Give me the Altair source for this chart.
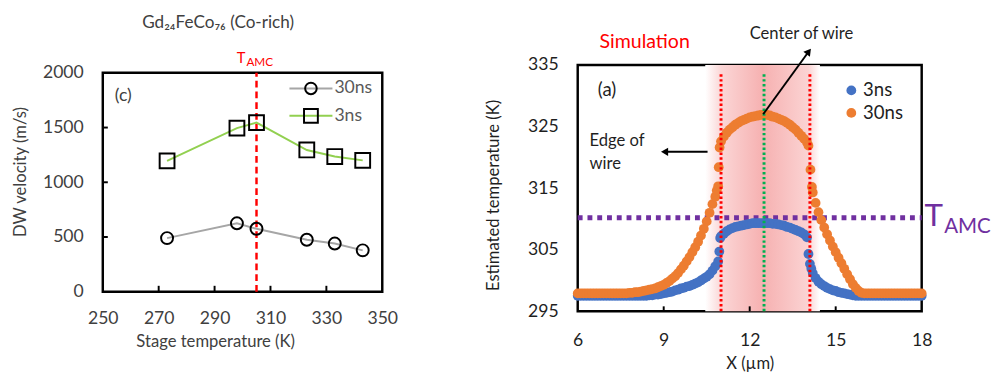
import altair as alt
import pandas as pd

# ---------------- Left panel data (measured DW velocity) ----------------
STAGE_T = [273, 298, 305, 323, 333, 343]
V_30NS = [490, 625, 575, 475, 440, 378]
V_3NS = [1195, 1495, 1545, 1295, 1235, 1200]
T_AMC_LEFT = [305.0]
LEFT_XTICKS = [250, 270, 290, 310, 330, 350]
LEFT_YTICKS = [0, 500, 1000, 1500, 2000]
LEFT_INNER_XTICKS = [270.0, 290.0, 310.0, 330.0]
LEFT_INNER_YTICKS = [500.0, 1000.0, 1500.0]

# ---------------- Right panel data (simulated temperature) ----------------
X_3NS = [6.0, 6.1, 6.2, 6.3, 6.4, 6.5, 6.6, 6.7, 6.8, 6.9,
         7.0, 7.1, 7.2, 7.3, 7.4, 7.5, 7.6, 7.7, 7.8, 7.9,
         8.0, 8.1, 8.2, 8.3, 8.4, 8.5, 8.6, 8.7, 8.8, 8.9,
         9.0, 9.1, 9.2, 9.3, 9.4, 9.5, 9.6, 9.7, 9.8, 9.9,
         10.0, 10.1, 10.2, 10.3, 10.4, 10.5, 10.6, 10.7, 10.8, 10.9,
         10.94, 10.97,
         11.0, 11.1, 11.2, 11.3, 11.4, 11.5, 11.6, 11.7, 11.8, 11.9,
         12.0, 12.1, 12.2, 12.3, 12.4, 12.5, 12.6, 12.7, 12.8, 12.9,
         13.0, 13.1, 13.2, 13.3, 13.4, 13.5, 13.6, 13.7, 13.8, 13.9,
         14.0, 14.05, 14.1, 14.15,
         14.2, 14.3, 14.4, 14.5, 14.6, 14.7, 14.8, 14.9,
         15.0, 15.1, 15.2, 15.3, 15.4, 15.5, 15.6, 15.7, 15.8, 15.9,
         16.0, 16.1, 16.2, 16.3, 16.4, 16.5, 16.6, 16.7, 16.8, 16.9,
         17.0, 17.1, 17.2, 17.3, 17.4, 17.5, 17.6, 17.7, 17.8, 17.9,
         18.0]
T_3NS = [297.5, 297.5, 297.5, 297.5, 297.5, 297.5, 297.5, 297.5, 297.5, 297.5,
         297.5, 297.5, 297.5, 297.5, 297.5, 297.5, 297.5, 297.5, 297.5, 297.5,
         297.5, 297.5, 297.5, 297.5, 297.5, 297.6, 297.6, 297.7, 297.7, 297.8,
         297.9, 298.0, 298.1, 298.2, 298.4, 298.5, 298.7, 298.8, 299.0, 299.1,
         299.3, 299.5, 299.7, 300.0, 300.3, 300.6, 301.0, 301.6, 302.3, 303.1,
         304.7, 306.9,
         307.2, 307.6, 308.0, 308.3, 308.5, 308.7, 308.8, 308.9, 309.0, 309.1,
         309.2, 309.3, 309.3, 309.3, 309.3, 309.3, 309.3, 309.3, 309.2, 309.2,
         309.1, 309.0, 308.9, 308.7, 308.6, 308.4, 308.2, 308.0, 307.8, 307.5,
         307.0, 304.3, 302.7, 301.9,
         301.2, 300.4, 299.8, 299.4, 299.1, 298.8, 298.6, 298.4,
         298.3, 298.1, 298.0, 297.9, 297.8, 297.7, 297.6, 297.5, 297.5, 297.5,
         297.5, 297.5, 297.5, 297.5, 297.5, 297.5, 297.5, 297.5, 297.5, 297.5,
         297.5, 297.5, 297.5, 297.5, 297.5, 297.5, 297.5, 297.5, 297.5, 297.5,
         297.5]

X_30NS = [6.0, 6.1, 6.2, 6.3, 6.4, 6.5, 6.6, 6.7, 6.8, 6.9,
          7.0, 7.1, 7.2, 7.3, 7.4, 7.5, 7.6, 7.7, 7.8, 7.9,
          8.0, 8.1, 8.2, 8.3, 8.4, 8.5, 8.6, 8.7, 8.8, 8.9,
          9.0, 9.1, 9.2, 9.3, 9.4, 9.5, 9.6, 9.7, 9.8, 9.9,
          10.0, 10.1, 10.2, 10.3, 10.4, 10.5, 10.6, 10.7, 10.8,
          10.85, 10.9, 10.92, 10.95,
          11.0, 11.1, 11.2, 11.3, 11.4, 11.5, 11.6, 11.7, 11.8, 11.9,
          12.0, 12.1, 12.2, 12.3, 12.4, 12.5, 12.6, 12.7, 12.8, 12.9,
          13.0, 13.1, 13.2, 13.3, 13.4, 13.5, 13.6, 13.7, 13.8, 13.9,
          14.0, 14.05, 14.12, 14.17,
          14.2, 14.3, 14.4, 14.5, 14.6, 14.7, 14.8, 14.9,
          15.0, 15.1, 15.2, 15.3, 15.4, 15.5, 15.6, 15.7, 15.8, 15.9,
          16.0, 16.1, 16.2, 16.3, 16.4, 16.5, 16.6, 16.7, 16.8, 16.9,
          17.0, 17.1, 17.2, 17.3, 17.4, 17.5, 17.6, 17.7, 17.8, 17.9,
          18.0]
T_30NS = [297.9, 297.9, 297.9, 297.9, 297.9, 297.9, 297.9, 297.9, 297.9, 297.9,
          297.9, 297.9, 297.9, 297.9, 297.9, 297.9, 297.9, 297.9, 298.0, 298.0,
          298.1, 298.1, 298.2, 298.3, 298.4, 298.5, 298.6, 298.7, 298.9, 299.1,
          299.3, 299.6, 299.9, 300.3, 300.7, 301.2, 301.8, 302.4, 303.1, 303.8,
          304.6, 305.4, 306.3, 307.3, 308.4, 309.6, 311.0, 312.4, 313.6,
          314.6, 315.3, 318.4, 321.6,
          322.6, 323.4, 324.0, 324.5, 324.9, 325.3, 325.6, 325.9, 326.1, 326.3,
          326.5, 326.6, 326.7, 326.8, 326.9, 326.9, 326.9, 326.8, 326.6, 326.5,
          326.3, 326.1, 325.9, 325.6, 325.3, 324.9, 324.5, 324.0, 323.5, 323.0,
          322.4, 321.9, 318.0, 315.2,
          314.3, 312.6, 311.1, 309.8, 308.6, 307.5, 306.5, 305.5,
          304.6, 303.7, 302.8, 301.9, 301.0, 300.2, 299.4, 298.8, 298.3, 298.0,
          297.9, 297.9, 297.9, 297.9, 297.9, 297.9, 297.9, 297.9, 297.9, 297.9,
          297.9, 297.9, 297.9, 297.9, 297.9, 297.9, 297.9, 297.9, 297.9, 297.9,
          297.9]

EDGE_X = [11.0, 14.1]
CENTER_X = [12.5]
T_AMC_RIGHT = [310.2]
RIGHT_XTICKS = [6, 9, 12, 15, 18]
RIGHT_YTICKS = [295, 305, 315, 325, 335]
RIGHT_INNER_XTICKS = [9.0, 12.0, 15.0]

FONT = "Lato"
LEFT_TXT = "#404040"
RIGHT_TXT = "#1f1f1f"

# ============================ LEFT PANEL ============================
W1, H1 = 286, 224
LX_SCALE = alt.Scale(domain=[250, 350], nice=False, zero=False)
LY_SCALE = alt.Scale(domain=[0, 2000], nice=False)
LX_AXIS = alt.Axis(values=LEFT_XTICKS, title="Stage temperature (K)", grid=False, format="d",
                   domain=False, ticks=False, tickSize=0,
                   labelFontSize=18, labelColor=LEFT_TXT, labelPadding=19, titleFontSize=17,
                   titleFontWeight="normal", titleColor=LEFT_TXT, titleX=115,
                   titleY=51, titleBaseline="middle", labelFlush=False)
LY_AXIS = alt.Axis(values=LEFT_YTICKS, title="DW velocity (m/s)", grid=False, format="d",
                   domain=False, ticks=False, tickSize=0,
                   labelFontSize=18, labelColor=LEFT_TXT, labelPadding=20, titleFontSize=17,
                   titleFontWeight="normal", titleColor=LEFT_TXT, titleX=-84,
                   titleY=101, titleBaseline="middle", labelFlush=False)


def lx(f):
    return alt.X(f, type="quantitative", scale=LX_SCALE, axis=LX_AXIS)


def ly(f):
    return alt.Y(f, type="quantitative", scale=LY_SCALE, axis=LY_AXIS)


one = pd.DataFrame({"k": [0]})
left_df = pd.DataFrame({"temp": STAGE_T, "v30": V_30NS, "v3": V_3NS})

l_amc = alt.Chart(pd.DataFrame({"t": T_AMC_LEFT, "y0": [0.0], "y1": [2000.0]})).mark_rule(
    color="#FF0000", strokeWidth=2.5, strokeDash=[7, 4]
).encode(x=lx("t"), y=ly("y0"), y2="y1")

# inward tick marks, one single-row rule layer each
l_ticks = []
for v in LEFT_INNER_XTICKS:
    l_ticks.append(alt.Chart(pd.DataFrame({"tx": [v], "b0": [0.0], "b1": [54.0]})).mark_rule(
        color="black", strokeWidth=2).encode(x=lx("tx"), y=ly("b0"), y2="b1"))
for v in LEFT_INNER_YTICKS:
    l_ticks.append(alt.Chart(pd.DataFrame({"ty": [v], "a0": [250.0], "a1": [251.8]})).mark_rule(
        color="black", strokeWidth=2).encode(y=ly("ty"), x=lx("a0"), x2="a1"))

l_line30 = alt.Chart(left_df).mark_line(color="#A6A6A6", strokeWidth=2).encode(x=lx("temp"), y=ly("v30"))
l_line3 = alt.Chart(left_df).mark_line(color="#92D050", strokeWidth=2).encode(x=lx("temp"), y=ly("v3"))
l_pt30 = alt.Chart(left_df).mark_point(shape="circle", size=150, filled=False, color="black",
                                        strokeWidth=2, opacity=1).encode(x=lx("temp"), y=ly("v30"))
l_pt3 = alt.Chart(left_df).mark_point(shape="square", size=230, filled=False, color="black",
                                       strokeWidth=2, opacity=1).encode(x=lx("temp"), y=ly("v3"))

# legend (c)
lg = []
for yy, col, shp, sz, lab in [(16, "#A6A6A6", "circle", 140, "30ns"), (44, "#92D050", "square", 200, "3ns")]:
    lg.append(alt.Chart(one).mark_rule(color=col, strokeWidth=2).encode(
        x=alt.value(191), x2=alt.value(235), y=alt.value(yy)))
    lg.append(alt.Chart(one).mark_point(shape=shp, size=sz, filled=False, color="black",
                                        strokeWidth=2, opacity=1).encode(x=alt.value(213), y=alt.value(yy)))
    lg.append(alt.Chart(one).mark_text(text=lab, align="left", baseline="middle", fontSize=18,
                                       color="#595959", font=FONT).encode(x=alt.value(237), y=alt.value(yy)))

l_c = alt.Chart(one).mark_text(text="(c)", fontSize=18, color=LEFT_TXT, font=FONT,
                               baseline="middle").encode(x=alt.value(21), y=alt.value(24))
l_title = alt.Chart(one).mark_text(text="Gd₂₄FeCo₇₆ (Co-rich)", fontSize=17.5, color=LEFT_TXT,
                                   font=FONT, baseline="middle").encode(x=alt.value(118), y=alt.value(-51))
l_T = alt.Chart(one).mark_text(text="T", fontSize=15, color="#FF0000", font=FONT, align="left",
                               baseline="alphabetic").encode(x=alt.value(137), y=alt.value(-10))
l_AMC = alt.Chart(one).mark_text(text="AMC", fontSize=12, color="#FF0000", font=FONT, align="left",
                                 baseline="alphabetic").encode(x=alt.value(147), y=alt.value(-7))

left = alt.layer(l_amc, *l_ticks, l_line30, l_line3, l_pt30, l_pt3, *lg,
                 l_c, l_title, l_T, l_AMC).properties(width=W1, height=H1)

# an empty 8px strip above the left panel so that its frame starts lower than the right one
spacer = alt.Chart(one).mark_point(opacity=0).encode(
    x=alt.value(0), y=alt.value(0)
).properties(width=W1, height=8, view=alt.ViewBackground(strokeWidth=0, strokeOpacity=0))

left_col = alt.vconcat(spacer, left, spacing=0, bounds="flush")

# ============================ RIGHT PANEL ============================
W2, H2 = 352, 252
RX_SCALE = alt.Scale(domain=[6, 18], nice=False, zero=False)
RY_SCALE = alt.Scale(domain=[295, 335], nice=False, zero=False)
RX_AXIS = alt.Axis(values=RIGHT_XTICKS, title="X (µm)", grid=False, domain=False,
                   ticks=False, tickSize=0,
                   labelFontSize=18, labelColor=RIGHT_TXT, labelPadding=21,
                   titleFontSize=17, titleFontWeight="normal", titleColor=RIGHT_TXT,
                   titleX=176, titleY=54, titleBaseline="middle", labelFlush=False)
RY_AXIS = alt.Axis(values=RIGHT_YTICKS, title="Estimated temperature (K)", grid=False, domain=False,
                   ticks=False, tickSize=0, labelFontSize=18, labelColor=RIGHT_TXT, labelPadding=20,
                   titleFontSize=17, titleFontWeight="normal", titleColor=RIGHT_TXT,
                   titleX=-86, titleY=133, titleBaseline="middle", labelFlush=False)


def rx(f):
    return alt.X(f, type="quantitative", scale=RX_SCALE, axis=RX_AXIS)


def ry(f):
    return alt.Y(f, type="quantitative", scale=RY_SCALE, axis=RY_AXIS)


grad = alt.Gradient(
    gradient="linear", x1=0, x2=1, y1=0, y2=0,
    stops=[alt.GradientStop(color="#ffffff", offset=0),
           alt.GradientStop(color="#fbd6d6", offset=0.14),
           alt.GradientStop(color="#f6b1b1", offset=0.5),
           alt.GradientStop(color="#fbd3d3", offset=0.9),
           alt.GradientStop(color="#ffffff", offset=1)])

r_band = alt.Chart(pd.DataFrame({"x0": [10.45], "x1": [14.45], "y0": [295.0], "y1": [335.0]})).mark_rect(
    fill=grad).encode(x=rx("x0"), x2="x1", y=ry("y0"), y2="y1")
r_ticks = []
for v in RIGHT_INNER_XTICKS:
    r_ticks.append(alt.Chart(pd.DataFrame({"tx": [v], "b0": [295.0], "b1": [295.8]})).mark_rule(
        color="black", strokeWidth=2).encode(x=rx("tx"), y=ry("b0"), y2="b1"))
r_amc = alt.Chart(pd.DataFrame({"t": T_AMC_RIGHT, "x0": [6.0], "x1": [18.0]})).mark_rule(
    color="#7030A0", strokeWidth=5, strokeDash=[5, 5]).encode(x=rx("x0"), x2="x1", y=ry("t"))

r_pts3 = alt.Chart(pd.DataFrame({"x": X_3NS, "t": T_3NS})).mark_circle(
    size=100, color="#4472C4", opacity=1).encode(x=rx("x"), y=ry("t"))
r_pts30 = alt.Chart(pd.DataFrame({"x": X_30NS, "t": T_30NS})).mark_circle(
    size=100, color="#ED7D31", opacity=1).encode(x=rx("x"), y=ry("t"))

r_edges = alt.Chart(pd.DataFrame({"x": EDGE_X, "y0": [295.0, 295.0], "y1": [333.7, 333.7]})).mark_rule(
    color="#FF0000", strokeWidth=3, strokeDash=[2.5, 2.5]).encode(x=rx("x"), y=ry("y0"), y2="y1")
r_center = alt.Chart(pd.DataFrame({"x": CENTER_X, "y0": [295.0], "y1": [333.7]})).mark_rule(
    color="#00B050", strokeWidth=3, strokeDash=[2.5, 2.5]).encode(x=rx("x"), y=ry("y0"), y2="y1")

# arrows
arr_lines = alt.Chart(pd.DataFrame({"x0": [12.47, 10.53], "x1": [14.06, 9.03],
                                    "y0": [327.0, 320.9], "y1": [337.2, 320.9]})).mark_rule(
    color="black", strokeWidth=2).encode(x=rx("x0"), x2="x1", y=ry("y0"), y2="y1")
arr_head1 = alt.Chart(pd.DataFrame({"x": [14.06], "y": [337.2]})).mark_point(
    shape="triangle-up", filled=True, color="black", size=70, angle=37, opacity=1).encode(
    x=rx("x"), y=ry("y"))
arr_head2 = alt.Chart(pd.DataFrame({"x": [9.03], "y": [320.9]})).mark_point(
    shape="triangle-up", filled=True, color="black", size=70, angle=270, opacity=1).encode(
    x=rx("x"), y=ry("y"))

rl = []
for yy, col, lab in [(26, "#4472C4", "3ns"), (49, "#ED7D31", "30ns")]:
    rl.append(alt.Chart(one).mark_circle(size=100, color=col, opacity=1).encode(
        x=alt.value(280), y=alt.value(yy)))
    rl.append(alt.Chart(one).mark_text(text=lab, align="left", baseline="middle", fontSize=19,
                                       color=RIGHT_TXT, font=FONT).encode(x=alt.value(292), y=alt.value(yy)))


def txt(s, x, y, size=17, color=RIGHT_TXT, align="center", baseline="middle"):
    return alt.Chart(one).mark_text(text=s, fontSize=size, color=color, font=FONT, align=align,
                                    baseline=baseline).encode(x=alt.value(x), y=alt.value(y))


r_texts = [
    txt("(a)", 30, 26, size=19),
    txt("Simulation", 68.5, -23, size=20, color="#FF0000"),
    txt("Center of wire", 229, -32, size=17),
    txt("Edge of", 12, 78, size=17, align="left"),
    txt("wire", 12, 101, size=17, align="left"),
    txt("T", 355, 165, size=32, color="#7030A0", align="left", baseline="alphabetic"),
    txt("AMC", 375, 172, size=21, color="#7030A0", align="left", baseline="alphabetic"),
]

right = alt.layer(r_band, *r_ticks, r_amc, r_pts3, r_pts30, r_edges, r_center,
                  arr_lines, arr_head1, arr_head2, *rl, *r_texts).properties(width=W2, height=H2)

chart = alt.hconcat(left_col, right, spacing=86).properties(
    padding={"left": 2, "top": 0, "right": 2, "bottom": 2}, background="white"
).configure(font=FONT).configure_view(stroke="black", strokeWidth=2.5)

chart.save("out.html", embed_options={"renderer": "svg", "actions": False})
